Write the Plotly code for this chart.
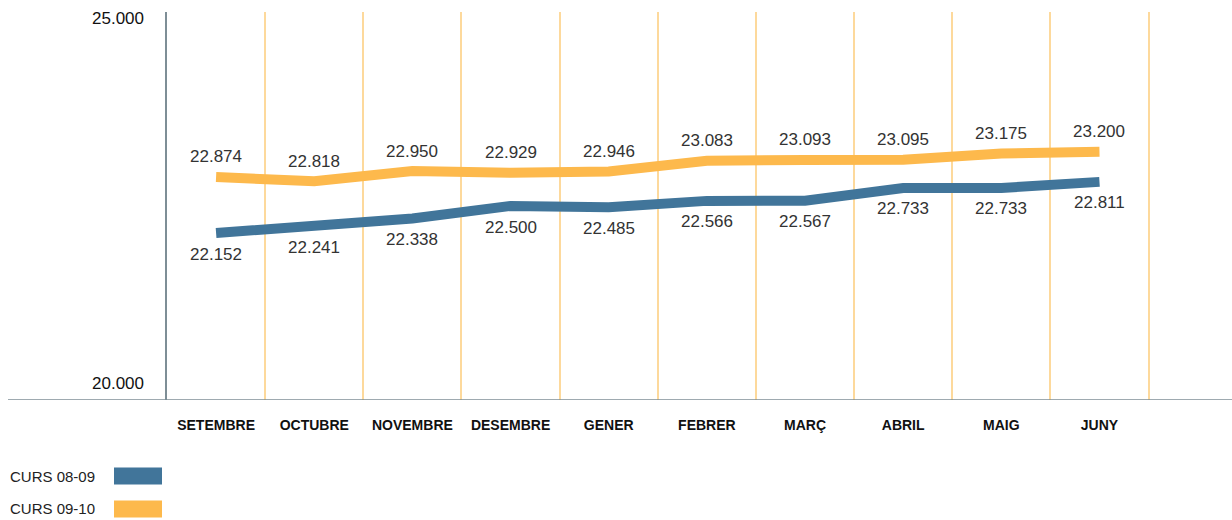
import plotly.graph_objects as go

months = ["SETEMBRE", "OCTUBRE", "NOVEMBRE", "DESEMBRE", "GENER",
          "FEBRER", "MARÇ", "ABRIL", "MAIG", "JUNY"]
curs_0809 = [22152, 22241, 22338, 22500, 22485, 22566, 22567, 22733, 22733, 22811]
curs_0910 = [22874, 22818, 22950, 22929, 22946, 23083, 23093, 23095, 23175, 23200]
series_names = ["CURS 08-09", "CURS 09-10"]
y_ticks = [20000, 25000]
y_tick_text = ["20.000", "25.000"]

BLUE = "#41759A"
ORANGE = "#FDB94C"
GRID = "#FDD99C"
AXIS = "#7E8E96"

W_PLOT = 1065.0
H_PLOT = 388.0

def fmt(v):
    return f"{v:,}".replace(",", ".")

def px_x(px):
    return (px - 167) / W_PLOT

def px_y(py):
    return (400 - py) / H_PLOT

fig = go.Figure()
fig.add_trace(go.Scatter(x=months, y=curs_0809, mode="lines", name=series_names[0],
                         line=dict(color=BLUE, width=10), showlegend=False, hoverinfo="skip"))
fig.add_trace(go.Scatter(x=months, y=curs_0910, mode="lines", name=series_names[1],
                         line=dict(color=ORANGE, width=10), showlegend=False, hoverinfo="skip"))

ann = []
for m, v in zip(months, curs_0910):
    ann.append(dict(x=m, y=v, xref="x", yref="y", text=fmt(v), showarrow=False,
                    yshift=20, font=dict(family="Liberation Sans", size=17, color="#333333")))
for m, v in zip(months, curs_0809):
    ann.append(dict(x=m, y=v, xref="x", yref="y", text=fmt(v), showarrow=False,
                    yshift=-21, font=dict(family="Liberation Sans", size=17, color="#333333")))
# y tick labels
ann.append(dict(x=px_x(146), y=y_ticks[1], xref="paper", yref="y", text=y_tick_text[1], showarrow=False,
                xanchor="right", yshift=-6, font=dict(family="Liberation Sans", size=17, color="#111111")))
ann.append(dict(x=px_x(146), y=y_ticks[0], xref="paper", yref="y", text=y_tick_text[0], showarrow=False,
                xanchor="right", yshift=17, font=dict(family="Liberation Sans", size=17, color="#111111")))

shapes = []
# baseline
shapes.append(dict(type="line", xref="paper", yref="y", x0=px_x(8), x1=1.0, y0=20000, y1=20000,
                   line=dict(color=AXIS, width=1.5)))
# legend
legend_colors = [BLUE, ORANGE]
legend_y = [476, 509]
for name, col, yc in zip(series_names, legend_colors, legend_y):
    shapes.append(dict(type="rect", xref="paper", yref="paper",
                       x0=px_x(114), x1=px_x(162), y0=px_y(yc + 8.5), y1=px_y(yc - 8.5),
                       fillcolor=col, line=dict(width=0)))
    ann.append(dict(x=px_x(8), y=px_y(yc), xref="paper", yref="paper",
                    text=name, showarrow=False, xanchor="left", yanchor="middle",
                    font=dict(family="Liberation Sans", size=15, color="#222222")))

fig.update_layout(
    width=1232, height=520,
    margin=dict(l=167, r=0, t=12, b=120),
    paper_bgcolor="white", plot_bgcolor="white",
    annotations=ann, shapes=shapes, showlegend=False,
    xaxis=dict(type="category", categoryorder="array", categoryarray=months,
               range=[-0.5, 10.35], tickson="boundaries", showgrid=True,
               gridcolor=GRID, gridwidth=2, ticks="", showline=False, zeroline=False,
               tickfont=dict(family="Liberation Sans", size=14, color="#111111", weight="bold"),
               ticklabelstandoff=15, fixedrange=True),
    yaxis=dict(range=[20000, 25000], showgrid=False, zeroline=False, showticklabels=False,
               showline=True, linecolor=AXIS, linewidth=1.5, ticks="", fixedrange=True),
)
fig.write_html("out.html", config={"displayModeBar": False},
               post_script="document.body.style.margin='0';document.body.style.overflow='hidden';")
